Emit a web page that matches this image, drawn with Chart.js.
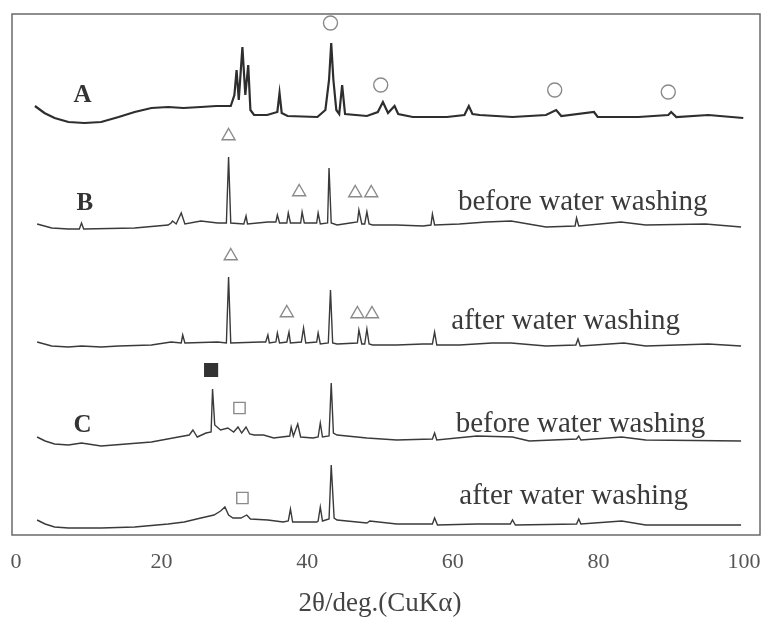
<!DOCTYPE html>
<html>
<head>
<meta charset="utf-8">
<script src="https://cdn.jsdelivr.net/npm/chart.js@4/dist/chart.umd.min.js"></script>
<style>
html,body{margin:0;padding:0;background:#fff;}
canvas{display:block;}
</style>
</head>
<body>
<canvas id="c" width="763" height="617"></canvas>
<script>
// ---- data (2θ in degrees, intensity in arbitrary units relative to each trace's baseline)
const xTicks = [0, 20, 40, 60, 80, 100];
const xTitle = '2θ/deg.(CuKα)';
const traceNames = ["A", "B before water washing", "B after water washing", "C before water washing", "C after water washing"];
const traceOffsets = [418, 308, 189, 95, 10];

const thetaA = [2.6,3.9,5.3,7.2,9.4,11.7,14.1,16.3,18.6,20.9,23.0,25.4,27.5,29.5,30.0,30.3,30.6,31.1,31.5,31.9,32.2,32.7,34.5,35.9,36.2,36.5,37.3,41.4,42.5,43.0,43.3,43.6,44.0,44.4,44.8,45.2,48.2,49.7,50.4,51.1,52.0,52.5,54.5,59.2,61.6,62.2,62.7,63.7,68.2,72.8,74.2,74.9,79.4,79.9,85.5,89.6,90.0,90.7,95.1,99.9];
const intA   = [11,4,-1,-5,-6,-5,0,5,9,10,9,10,11,11,22,47,17,70,22,52,7,2,2,5,24,4,1,0,7,37,74,37,7,3,32,3,1,5,15,4,11,3,0,0,2,11,3,2,0,2,7,1,5,0,0,2,5,0,2,-1];

const thetaBb = [2.9,4.9,7.2,8.7,9.0,9.3,16.3,20.9,21.3,21.5,22.0,22.7,23.2,25.4,27.7,28.9,29.2,29.5,31.3,31.6,31.8,34.6,35.7,35.9,36.2,37.2,37.4,37.7,39.1,39.3,39.6,41.3,41.5,41.8,42.8,43.0,43.3,44.1,45.9,46.9,47.1,47.5,47.9,48.2,48.5,49.0,52.3,55.9,57.0,57.2,57.5,60.9,64.6,68.0,72.8,76.8,77.0,77.3,83.1,86.5,94.7,99.6];
const intBb   = [3,-1,-2,-2,4,-2,-1,2,4,6,3,14,3,6,4,4,70,4,3,11,3,5,5,12,4,4,14,4,4,15,4,4,14,3,4,59,4,2,4,5,17,3,3,15,3,2,2,1,2,13,2,3,5,6,0,1,9,1,5,2,3,0];

const thetaBa = [2.9,4.9,7.2,9.0,11.7,14.1,18.6,21.3,22.7,22.9,23.2,27.7,28.9,29.2,29.5,33.6,34.3,34.6,34.8,35.7,35.9,36.2,37.2,37.5,37.7,39.2,39.5,39.8,41.3,41.5,41.8,42.9,43.2,43.5,44.1,46.9,47.1,47.5,47.9,48.2,48.5,49.0,52.3,55.9,57.2,57.5,57.8,60.9,65.4,68.0,72.8,76.9,77.2,77.5,83.5,86.5,95.1,99.6];
const intBa   = [4,0,-1,0,-1,0,1,4,3,11,3,4,3,69,3,4,4,11,3,4,13,3,4,14,3,4,18,3,4,13,2,3,56,3,2,3,16,2,2,17,2,1,1,2,2,14,1,1,3,3,0,1,7,0,3,0,2,0];

const thetaCb = [2.9,4.0,5.3,7.2,9.0,11.7,18.6,22.3,23.8,24.3,24.9,26.1,26.8,27.0,27.3,28.1,29.1,29.9,30.5,31.0,31.6,32.1,32.7,34.0,35.4,37.6,37.8,38.1,38.7,39.1,40.8,41.5,41.8,42.1,43.0,43.3,43.6,44.1,48.2,52.3,57.2,57.5,57.8,63.3,68.2,70.5,77.0,77.3,77.6,83.2,86.5,99.6];
const intCb   = [3,-1,-4,-5,-3,-6,-2,3,5,10,3,7,8,51,15,10,12,8,13,7,13,6,5,5,2,4,13,4,16,3,2,3,17,3,4,57,7,5,2,0,1,7,0,4,3,-1,1,4,0,3,0,-1];

const thetaCa = [2.9,4.0,5.3,7.2,11.7,16.3,20.9,23.1,25.4,27.2,28.1,28.7,29.2,29.8,30.9,31.7,32.2,34.6,36.7,37.4,37.7,38.0,41.3,41.5,41.8,42.1,43.0,43.3,43.7,44.1,48.2,48.6,52.3,57.2,57.5,57.9,63.3,67.9,68.2,68.6,77.0,77.3,77.6,83.2,86.5,99.6];
const intCa   = [5,1,-2,-3,-3,-2,1,3,7,10,14,18,10,7,7,10,6,5,3,4,16,3,3,4,18,4,6,60,7,5,2,4,1,1,7,0,1,1,5,0,1,6,1,4,0,0];

// phase markers (2θ, stacked height)
const circleTheta = [43.2, 50.1, 74.0, 89.6];
const circleY     = [512, 450, 445, 443];
const triTheta    = [29.2, 38.9, 46.6, 48.8, 29.5, 37.2, 46.9, 48.9];
const triY        = [399, 343, 342, 342, 279, 222, 221, 221];
const filledSqTheta = [26.8];
const filledSqY     = [165];
const openSqTheta = [30.7, 31.1];
const openSqY     = [127, 37];

// text annotations
const sampleLabels = ["A", "B", "C"];
const sampleLabelX = [7.9, 8.3, 7.9];
const sampleLabelY = [433, 325, 103];
const washLabels = ["before water washing", "after water washing", "before water washing", "after water washing"];
const washLabelX = [60.7, 59.8, 60.4, 60.9];
const washLabelY = [325, 206, 103, 31];

// ---- build datasets
function build(th, it, off) { return th.map((t, i) => ({x: t, y: off + it[i]})); }
function pts(xs, ys) { return xs.map((t, i) => ({x: t, y: ys[i]})); }

const traces = [[thetaA, intA], [thetaBb, intBb], [thetaBa, intBa], [thetaCb, intCb], [thetaCa, intCa]];
const datasets = traces.map((tr, k) => ({
  type: 'line',
  label: traceNames[k],
  data: build(tr[0], tr[1], traceOffsets[k]),
  borderColor: k === 0 ? '#2e2e2e' : '#3a3a3a',
  borderWidth: k === 0 ? 2.2 : 1.4,
  pointRadius: 0,
  tension: 0,
  fill: false
}));
const markerStyle = {type: 'scatter', showLine: false, borderColor: '#8a8a8a', backgroundColor: '#ffffff', borderWidth: 1.4};
datasets.push(Object.assign({}, markerStyle, {label: 'circle', data: pts(circleTheta, circleY), pointStyle: 'circle', pointRadius: 7}));
datasets.push(Object.assign({}, markerStyle, {label: 'triangle', data: pts(triTheta, triY), pointStyle: 'triangle', pointRadius: 7.5}));
datasets.push(Object.assign({}, markerStyle, {label: 'filled square', data: pts(filledSqTheta, filledSqY), pointStyle: 'rect', pointRadius: 9, backgroundColor: '#333', borderColor: '#333'}));
datasets.push(Object.assign({}, markerStyle, {label: 'open square', data: pts(openSqTheta, openSqY), pointStyle: 'rect', pointRadius: 8}));

const serif = '"Liberation Serif", "Times New Roman", serif';
const annot = {
  id: 'annot',
  afterDatasetsDraw(chart) {
    const ctx = chart.ctx, a = chart.chartArea, xs = chart.scales.x, ys = chart.scales.y;
    ctx.save();
    ctx.strokeStyle = '#6a6a6a';
    ctx.lineWidth = 1.5;
    ctx.strokeRect(a.left, a.top, a.right - a.left, a.bottom - a.top);
    // tick labels
    ctx.fillStyle = '#555';
    ctx.font = '22px ' + serif;
    ctx.textAlign = 'center';
    ctx.textBaseline = 'middle';
    xTicks.forEach(v => ctx.fillText(String(v), xs.getPixelForValue(v), a.bottom + 27));
    // axis title
    ctx.fillStyle = '#444';
    ctx.font = '27px ' + serif;
    ctx.fillText(xTitle, xs.getPixelForValue(50), a.bottom + 69);
    // annotations
    ctx.fillStyle = '#333';
    ctx.textBaseline = 'alphabetic';
    ctx.textAlign = 'left';
    ctx.font = 'bold 25px ' + serif;
    sampleLabels.forEach((s, i) => ctx.fillText(s, xs.getPixelForValue(sampleLabelX[i]), ys.getPixelForValue(sampleLabelY[i])));
    ctx.fillStyle = '#3a3a3a';
    ctx.font = '29px ' + serif;
    washLabels.forEach((s, i) => ctx.fillText(s, xs.getPixelForValue(washLabelX[i]), ys.getPixelForValue(washLabelY[i])));
    ctx.restore();
  }
};

new Chart(document.getElementById('c'), {
  data: {datasets},
  plugins: [annot],
  options: {
    responsive: false,
    animation: false,
    devicePixelRatio: 1,
    layout: {autoPadding: false, padding: {left: 12, right: 3, top: 14, bottom: 0}},
    plugins: {legend: {display: false}, tooltip: {enabled: false}},
    scales: {
      x: {
        type: 'linear', min: -0.55, max: 102.2,
        afterBuildTicks: s => { s.ticks = xTicks.map(v => ({value: v})); },
        afterFit: s => { s.paddingLeft = 0; s.paddingRight = 0; s.height = 82; },
        grid: {display: false, drawTicks: false},
        border: {display: false},
        ticks: {display: false},
        title: {display: false}
      },
      y: {type: 'linear', min: 0, max: 521, display: false}
    }
  }
});
</script>
</body>
</html>
